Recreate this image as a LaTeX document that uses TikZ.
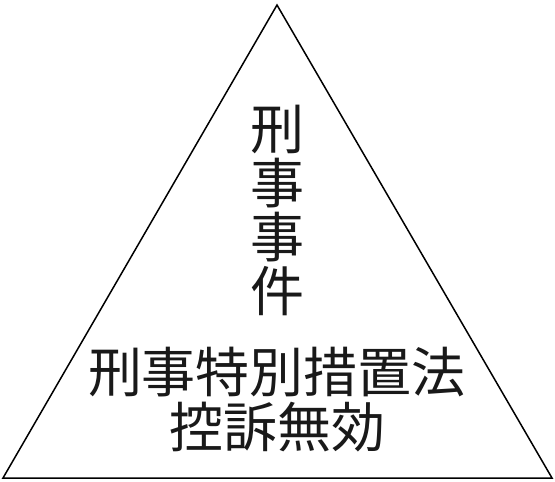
\documentclass[tikz,border=0pt]{standalone}
\usepackage{fontspec}
\newfontfamily\cjk{Noto Sans CJK JP}
\begin{document}
\begin{tikzpicture}[x=1pt,y=-1pt,
  lbl/.style={font=\cjk\fontsize{54}{54}\selectfont, inner sep=0pt, align=center, text=black!90},
  edge/.style={draw=black, line width=1.5pt, line join=miter}]
\useasboundingbox (0,0) rectangle (555,482);
\coordinate (apex) at (277,5);
\coordinate (bl) at (3,478);
\coordinate (br) at (552,478);
\draw[edge] (apex) -- (bl) -- (br) -- cycle;
\node[lbl] (v) at (277,210) {刑\\事\\事\\件};
\node[lbl] (l1) at (277,372) {刑事特別措置法};
\node[lbl] (l2) at (277,427) {控訴無効};
\end{tikzpicture}
\end{document}
